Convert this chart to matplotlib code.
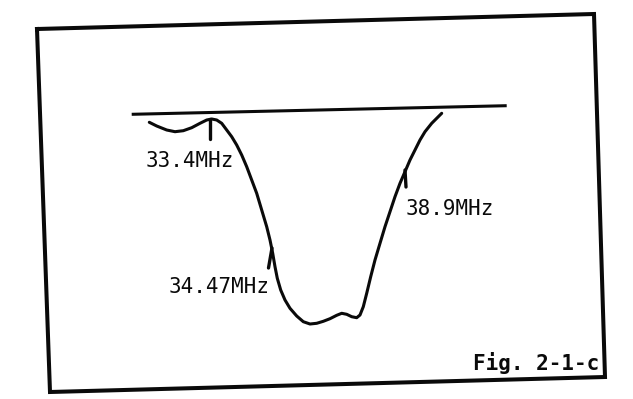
import numpy as np
import matplotlib
matplotlib.use("Agg")
import matplotlib.pyplot as plt

# Hand-drawn response curve (drawing units, y grows downward)
curve_x = [149.3, 156.7, 166.7, 175.0, 183.3, 191.7, 200.0, 206.7, 211.7, 216.7,
           221.7, 226.7, 231.7, 236.7, 241.7, 246.7, 251.7, 256.7, 261.7, 266.7,
           270.0, 272.7, 275.0, 277.3, 280.7, 285.0, 290.0, 296.7, 303.3, 310.0,
           316.7, 323.3, 330.0, 336.7, 341.7, 346.7, 351.7, 356.7, 360.0, 363.3,
           366.7, 370.7, 375.0, 380.0, 385.0, 390.0, 395.0, 400.0, 405.0, 410.0,
           415.0, 420.0, 425.0, 431.7, 436.7, 441.7]
curve_y = [122.3, 126.0, 130.0, 131.7, 130.7, 127.7, 123.3, 120.0, 119.0, 120.0,
           123.3, 130.0, 136.7, 145.0, 155.0, 166.7, 180.0, 193.3, 210.0, 226.7,
           240.0, 253.3, 266.7, 278.3, 290.0, 300.0, 308.3, 316.0, 321.7, 324.0,
           323.3, 321.3, 318.7, 315.3, 313.3, 314.3, 316.7, 317.7, 315.0, 306.7,
           293.3, 276.7, 260.0, 243.3, 226.7, 211.7, 196.7, 183.3, 171.7, 160.0,
           150.0, 140.0, 131.7, 123.3, 118.3, 113.3]

# Reference (0 dB) line ends
base_x = [131.7, 506.7]
base_y = [114.3, 105.7]

# Frequency markers: label, tick top (x, y), tick bottom (x, y), label centre (x, y)
marker_labels = ["33.4MHz", "34.47MHz", "38.9MHz"]
marker_tick_x0 = [210.0, 272.0, 405.0]
marker_tick_y0 = [119.0, 248.0, 170.0]
marker_tick_x1 = [210.0, 268.5, 406.0]
marker_tick_y1 = [139.0, 268.0, 187.0]
marker_text_x = [190.0, 219.0, 450.0]
marker_text_y = [161.0, 287.0, 209.0]

# Outer frame corners (slightly skewed scan)
frame_x = [37.0, 594.0, 605.0, 50.0, 37.0]
frame_y = [29.0, 14.0, 377.0, 392.0, 29.0]

fig_title = "Fig. 2-1-c"

fig = plt.figure(figsize=(6.33, 3.99), dpi=100)
ax = fig.add_axes([0, 0, 1, 1])
ax.set_xlim(0, 633)
ax.set_ylim(399, 0)
ax.axis("off")

ink = "#0a0a0a"
ax.plot(frame_x, frame_y, color=ink, lw=2.9, solid_joinstyle="miter")
ax.plot(base_x, base_y, color=ink, lw=2.2, solid_capstyle="butt")
ax.plot(curve_x, curve_y, color=ink, lw=2.2, solid_capstyle="round",
        solid_joinstyle="round")

for lab, x0, y0, x1, y1, tx, ty in zip(marker_labels, marker_tick_x0, marker_tick_y0,
                                        marker_tick_x1, marker_tick_y1,
                                        marker_text_x, marker_text_y):
    ax.plot([x0, x1], [y0, y1], color=ink, lw=2.4, solid_capstyle="round")
    ax.text(tx, ty, lab, ha="center", va="center", fontsize=15,
            family="DejaVu Sans Mono", color=ink)

ax.text(536, 363, fig_title, ha="center", va="center", fontsize=15,
        family="DejaVu Sans Mono", fontweight="bold", color=ink)

fig.savefig("out.png", dpi=100)
